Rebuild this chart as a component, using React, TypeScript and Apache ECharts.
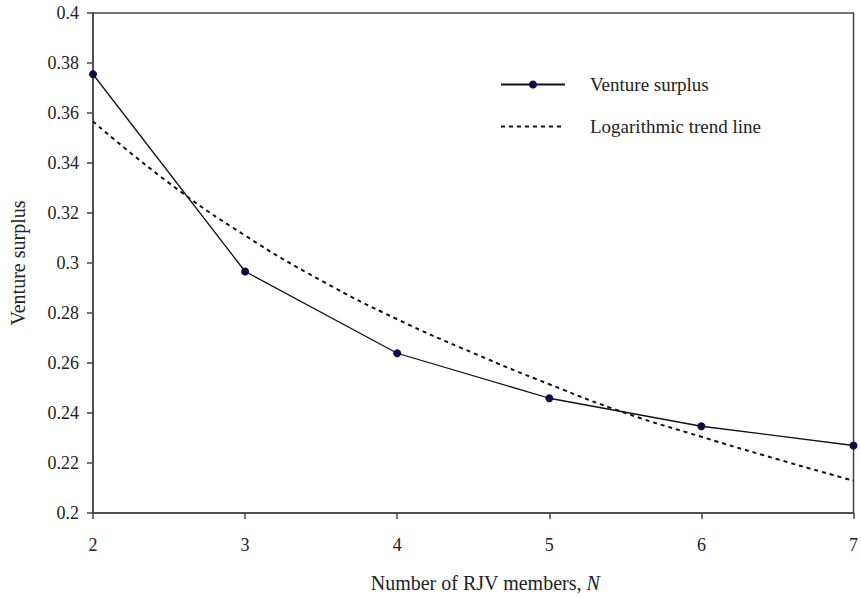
import React, { useEffect, useRef } from "react";
import * as echarts from "echarts";

const members = [2, 3, 4, 5, 6, 7];
const ventureSurplus = [0.3755, 0.2966, 0.2639, 0.2459, 0.2347, 0.227];
const trendX = [2, 2.5, 3, 3.5, 4, 4.5, 5, 5.5, 6, 6.5, 7];
const trendY = [0.3566, 0.332, 0.311, 0.293, 0.2775, 0.264, 0.2515, 0.24, 0.2305, 0.2215, 0.2129];
const seriesNames = ["Venture surplus", "Logarithmic trend line"];

export default function App() {
  const ref = useRef<HTMLDivElement>(null);
  useEffect(() => {
    if (!ref.current) return;
    const chart = echarts.init(ref.current, null, { renderer: "svg" });
    const font = "Liberation Serif";
    chart.setOption({
      animation: false,
      backgroundColor: "#fff",
      textStyle: { fontFamily: font },
      grid: {
        left: 93,
        right: 4,
        top: 13,
        bottom: 84,
        show: true,
        borderColor: "#444",
        borderWidth: 1.5,
      },
      legend: {
        orient: "vertical",
        left: 495,
        top: 70,
        itemWidth: 64,
        itemHeight: 10,
        itemGap: 23,
        data: [
          { name: seriesNames[0] },
          { name: seriesNames[1], itemStyle: { opacity: 0 } },
        ],
        textStyle: {
          fontFamily: font,
          fontSize: 19,
          color: "#222",
          padding: [0, 0, 0, 20],
        },
      },
      xAxis: {
        type: "value",
        min: 2,
        max: 7,
        interval: 1,
        name: "Number of RJV members, {i|N}",
        nameLocation: "middle",
        nameGap: 60,
        nameTextStyle: {
          fontFamily: font,
          fontSize: 20,
          color: "#222",
          padding: [0, 0, 0, 24],
          rich: { i: { fontStyle: "italic", fontFamily: font, fontSize: 20, color: "#222" } },
        },
        axisLine: { lineStyle: { color: "#444", width: 1.5 } },
        axisTick: { show: true, inside: false, length: 6, lineStyle: { color: "#444", width: 1.5 } },
        axisLabel: { fontFamily: font, fontSize: 18, color: "#222", margin: 23 },
        splitLine: { show: false },
      },
      yAxis: {
        type: "value",
        min: 0.2,
        max: 0.4,
        interval: 0.02,
        name: "Venture surplus",
        nameLocation: "middle",
        nameGap: 65,
        nameTextStyle: { fontFamily: font, fontSize: 20, color: "#222" },
        axisLine: { show: true, lineStyle: { color: "#444", width: 1.5 } },
        axisTick: { show: true, inside: false, length: 6, lineStyle: { color: "#444", width: 1.5 } },
        axisLabel: {
          fontFamily: font,
          fontSize: 18,
          color: "#222",
          margin: 14,
          formatter: (v: number) => String(parseFloat(v.toFixed(2))),
        },
        splitLine: { show: false },
      },
      series: [
        {
          name: seriesNames[0],
          type: "line",
          data: members.map((m, i) => [m, ventureSurplus[i]]),
          symbol: "circle",
          symbolSize: 8,
          itemStyle: { color: "#0b0b45" },
          lineStyle: { color: "#111", width: 1.3 },
          z: 3,
        },
        {
          name: seriesNames[1],
          type: "line",
          data: trendX.map((x, i) => [x, trendY[i]]),
          smooth: true,
          symbol: "none",
          itemStyle: { color: "#111" },
          lineStyle: { color: "#111", width: 2, type: [4, 4] },
          z: 2,
        },
      ],
    });
    return () => chart.dispose();
  }, []);
  return <div ref={ref} style={{ width: 861, height: 598, position: "absolute", left: 0, top: 0 }} />;
}
